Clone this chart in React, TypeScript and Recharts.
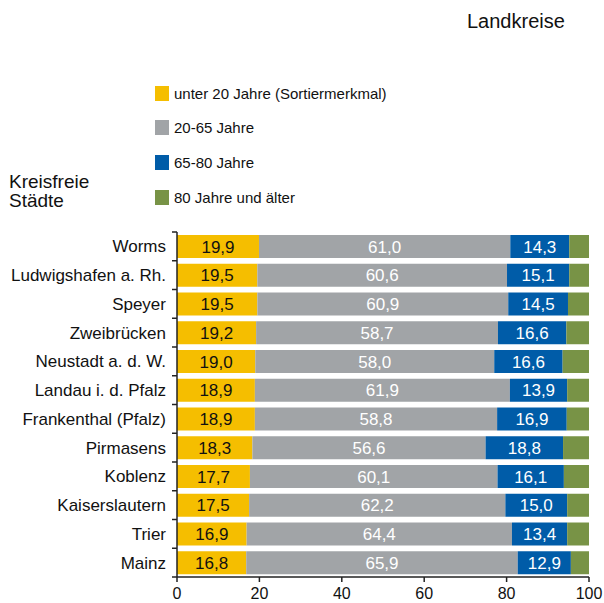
import React from "react";
import { BarChart, Bar, XAxis, YAxis, Legend, LabelList } from "recharts";

const cities = [
  "Worms",
  "Ludwigshafen a. Rh.",
  "Speyer",
  "Zweibrücken",
  "Neustadt a. d. W.",
  "Landau i. d. Pfalz",
  "Frankenthal (Pfalz)",
  "Pirmasens",
  "Koblenz",
  "Kaiserslautern",
  "Trier",
  "Mainz",
];
const under20 = [19.9, 19.5, 19.5, 19.2, 19.0, 18.9, 18.9, 18.3, 17.7, 17.5, 16.9, 16.8];
const age20to65 = [61.0, 60.6, 60.9, 58.7, 58.0, 61.9, 58.8, 56.6, 60.1, 62.2, 64.4, 65.9];
const age65to80 = [14.3, 15.1, 14.5, 16.6, 16.6, 13.9, 16.9, 18.8, 16.1, 15.0, 13.4, 12.9];
const age80plus = [4.8, 4.8, 5.1, 5.5, 6.4, 5.3, 5.4, 6.3, 6.1, 5.3, 5.3, 4.4];
const seriesNames = ["unter 20 Jahre (Sortiermerkmal)", "20-65 Jahre", "65-80 Jahre", "80 Jahre und älter"];
const xTicks = [0, 20, 40, 60, 80, 100];

const data = cities.map((name, i) => ({
  name,
  u20: under20[i],
  a2065: age20to65[i],
  a6580: age65to80[i],
  a80: age80plus[i],
}));

const FONT = "'Liberation Sans', Arial, sans-serif";
const BAND = 345 / cities.length;

const fmt = (v: any) => Number(v).toFixed(1).replace(".", ",");

// text at the tick position, small tick marks on the band boundaries
function CityTick(props: any) {
  const { x, y, payload, index } = props;
  const ax = x + 11;
  return (
    <g>
      {index === 0 && (
        <line x1={ax - 5} x2={ax} y1={y - BAND / 2} y2={y - BAND / 2} stroke="#222" strokeWidth={1.5} />
      )}
      <line x1={ax - 5} x2={ax} y1={y + BAND / 2} y2={y + BAND / 2} stroke="#222" strokeWidth={1.5} />
      <text x={x} y={y} dy="0.355em" textAnchor="end" fontSize={17} fill="#111" fontFamily={FONT}>
        {payload.value}
      </text>
    </g>
  );
}

function LegendBox(props: any) {
  const items = [...(props.payload || [])].sort(
    (a: any, b: any) => seriesNames.indexOf(a.value) - seriesNames.indexOf(b.value)
  );
  return (
    <div style={{ fontFamily: FONT }}>
      {items.map((it: any) => (
        <div key={it.value} style={{ display: "flex", alignItems: "center", height: 34.6 }}>
          <span style={{ width: 14, height: 15, background: it.color, marginRight: 5, display: "inline-block" }} />
          <span style={{ fontSize: 15, color: "#111", whiteSpace: "nowrap" }}>{it.value}</span>
        </div>
      ))}
    </div>
  );
}

export default function App() {
  return (
    <div style={{ position: "absolute", left: 0, top: 0, width: 604, height: 603, fontFamily: FONT }}>
      <BarChart
        width={604}
        height={603}
        data={data}
        layout="vertical"
        margin={{ top: 232, right: 15, bottom: 0, left: 0 }}
        barSize={23}
      >
        <XAxis
          type="number"
          domain={[0, 100]}
          ticks={xTicks}
          height={26}
          tickSize={5}
          tickMargin={6}
          tick={{ fontSize: 16, fill: "#111" }}
          axisLine={{ stroke: "#222", strokeWidth: 1.5 }}
          tickLine={{ stroke: "#222", strokeWidth: 1.5 }}
        />
        <YAxis
          type="category"
          dataKey="name"
          width={177}
          tickSize={5}
          tickMargin={6}
          tickLine={false}
          axisLine={{ stroke: "#222", strokeWidth: 1.5 }}
          tick={<CityTick />}
          interval={0}
        />
        <Legend
          layout="vertical"
          align="center"
          verticalAlign="middle"
          content={<LegendBox />}
          wrapperStyle={{ left: 155, top: 76, width: 320, height: "auto" }}
        />
        <Bar dataKey="u20" name={seriesNames[0]} stackId="a" fill="#F5BE00" isAnimationActive={false}>
          <LabelList dataKey="u20" position="center" formatter={fmt} fill="#111" fontSize={17} />
        </Bar>
        <Bar dataKey="a2065" name={seriesNames[1]} stackId="a" fill="#A1A4A7" isAnimationActive={false}>
          <LabelList dataKey="a2065" position="center" formatter={fmt} fill="#fff" fontSize={17} />
        </Bar>
        <Bar dataKey="a6580" name={seriesNames[2]} stackId="a" fill="#005CA8" isAnimationActive={false}>
          <LabelList dataKey="a6580" position="center" formatter={fmt} fill="#fff" fontSize={17} />
        </Bar>
        <Bar dataKey="a80" name={seriesNames[3]} stackId="a" fill="#789346" isAnimationActive={false} />
      </BarChart>
      <svg
        width={604}
        height={603}
        style={{ position: "absolute", left: 0, top: 0, pointerEvents: "none" }}
      >
        <text x={467} y={28} fontSize={20} fill="#111" fontFamily={FONT}>
          Landkreise
        </text>
        <text x={9} y={188} fontSize={19} fill="#111" fontFamily={FONT}>
          Kreisfreie
        </text>
        <text x={9} y={207} fontSize={19} fill="#111" fontFamily={FONT}>
          Städte
        </text>
      </svg>
    </div>
  );
}
